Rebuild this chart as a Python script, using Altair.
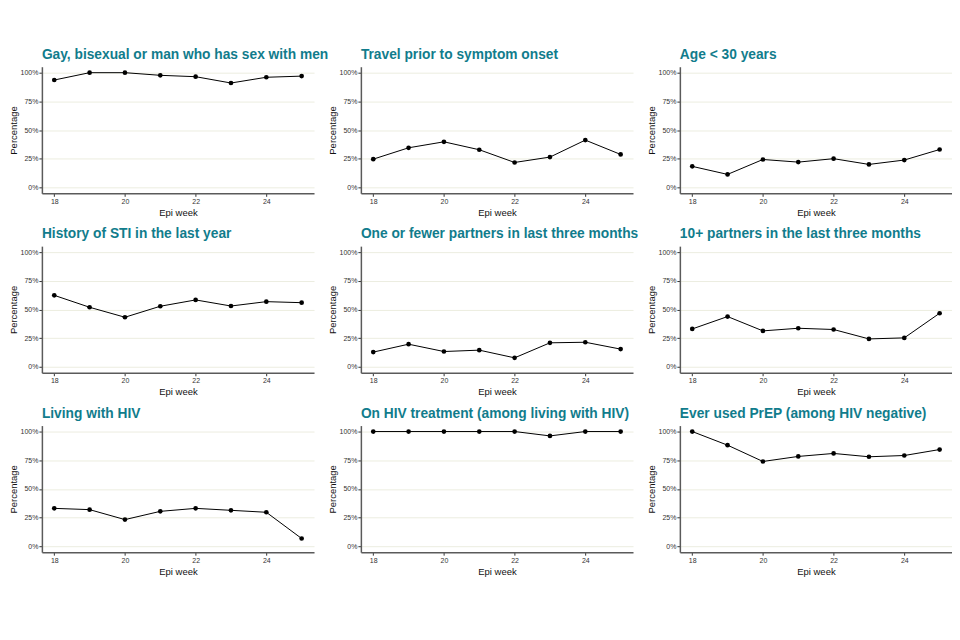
import altair as alt
import pandas as pd

weeks = [18, 19, 20, 21, 22, 23, 24, 25]

titles = [
    "Gay, bisexual or man who has sex with men",
    "Travel prior to symptom onset",
    "Age < 30 years",
    "History of STI in the last year",
    "One or fewer partners in last three months",
    "10+ partners in the last three months",
    "Living with HIV",
    "On HIV treatment (among living with HIV)",
    "Ever used PrEP (among HIV negative)",
]

gbmsm = [0.936, 1.0, 1.0, 0.977, 0.965, 0.910, 0.960, 0.970]
travel = [0.246, 0.345, 0.397, 0.328, 0.217, 0.264, 0.412, 0.287]
age30 = [0.183, 0.113, 0.243, 0.220, 0.250, 0.200, 0.238, 0.330]
sti = [0.623, 0.519, 0.432, 0.528, 0.583, 0.530, 0.568, 0.559]
le1 = [0.128, 0.197, 0.133, 0.145, 0.078, 0.209, 0.214, 0.154]
p10 = [0.330, 0.438, 0.313, 0.336, 0.325, 0.243, 0.252, 0.467]
hiv = [0.330, 0.319, 0.232, 0.304, 0.330, 0.313, 0.296, 0.067]
art = [1.0, 1.0, 1.0, 1.0, 1.0, 0.962, 1.0, 1.0]
prep = [1.0, 0.881, 0.739, 0.783, 0.809, 0.780, 0.791, 0.843]

series = [gbmsm, travel, age30, sti, le1, p10, hiv, art, prep]

TEAL = "#117C8C"

panels = []
for title, vals in zip(titles, series):
    df = pd.DataFrame({"week": weeks, "pct": vals})
    base = alt.Chart(df).encode(
        x=alt.X("week:Q", title="Epi week",
                scale=alt.Scale(domain=[17.65, 25.35], nice=False, zero=False),
                axis=alt.Axis(values=[18, 20, 22, 24], format="d", grid=False,
                              labelPadding=1, titlePadding=3)),
        y=alt.Y("pct:Q", title="Percentage",
                scale=alt.Scale(domain=[-0.052, 1.052], nice=False),
                axis=alt.Axis(values=[0, 0.25, 0.5, 0.75, 1.0], format=".0%",
                              grid=True, labelPadding=1, titlePadding=2)),
    )
    line = base.mark_line(color="black", strokeWidth=1)
    pts = base.mark_circle(color="black", opacity=1, size=22)
    panel = (line + pts).properties(
        width=273, height=127,
        title=alt.TitleParams(title, anchor="start", frame="group",
                              fontSize=13.8, font="Liberation Sans",
                              fontWeight="bold", color=TEAL, offset=5),
    )
    panels.append(panel)

chart = alt.concat(*panels, columns=3, spacing={"row": 53, "column": 47},
                   bounds="flush").properties(
    padding={"left": 0, "top": 39, "right": 0, "bottom": 0}
).configure_view(stroke=None).configure_axis(
    labelFont="Liberation Sans", titleFont="Liberation Sans",
    labelFontSize=7, titleFontSize=9.5, labelColor="#333333", titleColor="#111111",
    titleFontWeight="normal",
    domainColor="#5a5a5a", domainWidth=1.5,
    tickColor="#333333", tickSize=3, tickWidth=1,
    gridColor="#ECEDE0", gridWidth=1,
)

chart.save("out.html", embed_options={"renderer": "svg", "actions": False})
